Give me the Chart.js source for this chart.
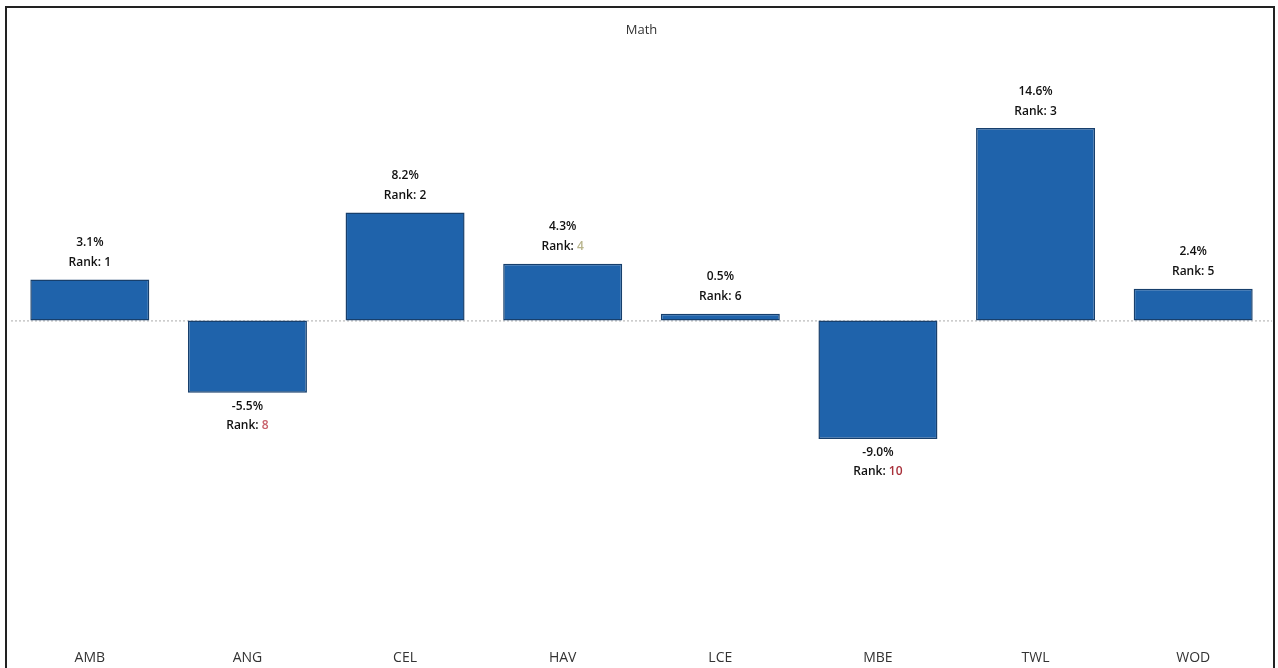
<!DOCTYPE html>
<html>
<head>
<meta charset="utf-8">
<script src="https://cdn.jsdelivr.net/npm/chart.js@4/dist/chart.umd.min.js"></script>
<style>
  html, body { margin: 0; padding: 0; background: #fff; overflow: hidden; }
  #frame {
    position: absolute; left: 5px; top: 6px; width: 1266px; height: 700px;
    border: 2px solid #222;
  }
  #wrap { position: absolute; left: 0; top: 0; width: 1278px; height: 668px; }
</style>
</head>
<body>
<div id="frame"></div>
<div id="wrap"><canvas id="math-chart"></canvas></div>
<script>
const schools = ["AMB", "ANG", "CEL", "HAV", "LCE", "MBE", "TWL", "WOD"];
const changes = [3.1, -5.5, 8.2, 4.3, 0.5, -9.0, 14.6, 2.4];
const ranks = [1, 8, 2, 4, 6, 10, 3, 5];
const rankColors = ["#111", "#c8606a", "#111", "#b8b48c", "#111", "#a8303a", "#111", "#111"];

// dotted zero line + value/rank labels
const barLabels = {
  id: "barLabels",
  beforeDatasetsDraw(chart) {
    const { ctx, chartArea, scales } = chart;
    const y0 = scales.y.getPixelForValue(0);
    ctx.save();
    ctx.strokeStyle = "#aaa";
    ctx.lineWidth = 1;
    ctx.setLineDash([2, 2]);
    ctx.beginPath();
    ctx.moveTo(chartArea.left, y0 + 0.5);
    ctx.lineTo(chartArea.right, y0 + 0.5);
    ctx.stroke();
    ctx.restore();
  },
  afterDatasetsDraw(chart) {
    const { ctx } = chart;
    const meta = chart.getDatasetMeta(0);
    ctx.save();
    ctx.font = "600 12px 'Open Sans'";
    ctx.textBaseline = "middle";
    meta.data.forEach((bar, i) => {
      const v = changes[i];
      const valueY = v >= 0 ? bar.y - 37 : bar.y + 14;
      const rankY = v >= 0 ? bar.y - 17 : bar.y + 33;
      ctx.fillStyle = "#111";
      ctx.textAlign = "center";
      ctx.fillText(v.toFixed(1) + "%", bar.x, valueY);
      const head = "Rank: ";
      const num = String(ranks[i]);
      const w1 = ctx.measureText(head).width;
      const w2 = ctx.measureText(num).width;
      const start = bar.x - (w1 + w2) / 2;
      ctx.textAlign = "left";
      ctx.fillStyle = "#111";
      ctx.fillText(head, start, rankY);
      ctx.fillStyle = rankColors[i];
      ctx.fillText(num, start + w1, rankY);
    });
    ctx.restore();
  },
};

new Chart(document.getElementById("math-chart"), {
  type: "bar",
  data: {
    labels: schools,
    datasets: [
      {
        label: "Math",
        data: changes,
        backgroundColor: "#1f63ab",
        borderColor: "#173f6c",
        borderWidth: 1.5,
        borderSkipped: false,
        categoryPercentage: 0.755,
        barPercentage: 1,
      },
    ],
  },
  options: {
    responsive: true,
    maintainAspectRatio: false,
    animation: false,
    layout: { padding: { left: 11, right: 6, top: 0, bottom: 0 } },
    plugins: {
      legend: { display: false },
      tooltip: { enabled: false },
      title: {
        display: true,
        text: "Math",
        color: "#333",
        font: { family: "'Open Sans'", size: 13, weight: "normal" },
        padding: { top: 22, bottom: 10 },
      },
    },
    scales: {
      x: {
        grid: { display: false },
        border: { display: false },
        ticks: {
          color: "#333",
          padding: 2,
          font: { family: "'Open Sans'", size: 14 },
        },
      },
      y: {
        display: false,
        min: -24.2,
        max: 20.71,
      },
    },
  },
  plugins: [barLabels],
});
</script>
</body>
</html>
